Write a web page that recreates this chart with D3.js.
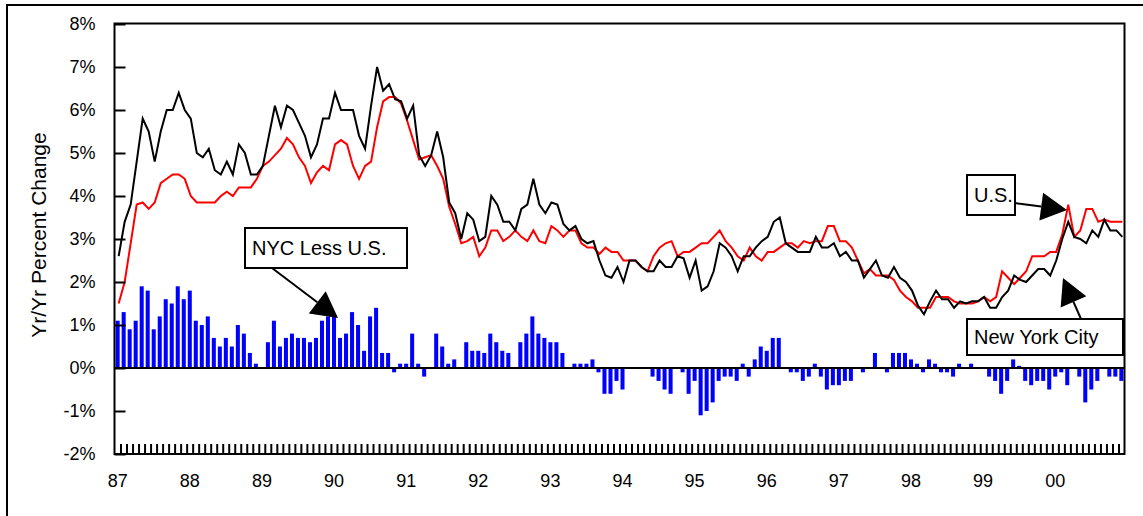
<!DOCTYPE html>
<html>
<head>
<meta charset="utf-8">
<script src="https://cdn.jsdelivr.net/npm/d3@7"></script>
<style>
  body { margin: 0; background: #fff; }
  text { font-family: "Liberation Sans", Arial, sans-serif; fill: #000; }
</style>
</head>
<body>
<div id="chart"></div>
<script>
// Year labels, one per January (Jan 87 .. Jan 00)
const yearLabels = ["87", "88", "89", "90", "91", "92", "93", "94", "95", "96", "97", "98", "99", "00"];

// New York City, yr/yr % change, monthly Jan 87 - Dec 00
const nycValues = [
  2.6, 3.4, 3.8, 4.8, 5.8, 5.5, 4.8, 5.5, 6.0, 6.0, 6.4, 6.0, 5.8, 5.0, 4.9, 5.1, 4.6, 4.5, 4.8, 4.5, 5.2, 5.0, 4.5, 4.5, 4.7, 5.4, 6.1, 5.6,
  6.1, 6.0, 5.7, 5.4, 4.9, 5.2, 5.8, 5.8, 6.4, 6.0, 6.0, 6.0, 5.4, 5.1, 6.1, 7.0, 6.45, 6.6, 6.25, 6.2, 5.8, 6.1, 4.95, 4.7, 4.95, 5.5, 4.9, 3.85,
  3.6, 3.0, 3.6, 3.45, 2.95, 3.05, 4.0, 3.8, 3.4, 3.4, 3.2, 3.7, 3.8, 4.4, 3.8, 3.6, 3.85, 3.8, 3.35, 3.2, 3.3, 3.0, 2.9, 2.95, 2.5, 2.15, 2.1, 2.35,
  2.0, 2.5, 2.5, 2.35, 2.25, 2.25, 2.5, 2.35, 2.35, 2.6, 2.55, 2.1, 2.5, 1.8, 1.9, 2.25, 2.9, 2.8, 2.6, 2.25, 2.6, 2.6, 2.8, 2.95, 3.05, 3.4, 3.5, 2.9,
  2.8, 2.7, 2.7, 2.7, 3.05, 2.8, 2.8, 2.9, 2.6, 2.7, 2.5, 2.5, 2.1, 2.3, 2.5, 2.15, 2.1, 2.35, 2.1, 2.0, 1.8, 1.45, 1.25, 1.55, 1.8, 1.6, 1.6, 1.4,
  1.55, 1.5, 1.55, 1.55, 1.65, 1.4, 1.4, 1.65, 1.8, 2.15, 2.05, 2.0, 2.15, 2.3, 2.3, 2.15, 2.5, 3.0, 3.4, 3.05, 3.0, 2.9, 3.2, 3.05, 3.45, 3.2, 3.2, 3.05
];

// U.S., yr/yr % change
const usValues = [
  1.5, 2.0, 2.9, 3.8, 3.85, 3.7, 3.85, 4.3, 4.4, 4.5, 4.5, 4.4, 4.0, 3.85, 3.85, 3.85, 3.85, 4.0, 4.1, 4.0, 4.2, 4.2, 4.2, 4.4, 4.7, 4.8, 4.95, 5.1,
  5.35, 5.2, 4.9, 4.7, 4.3, 4.55, 4.7, 4.6, 5.2, 5.3, 5.2, 4.7, 4.4, 4.7, 4.8, 5.6, 6.2, 6.3, 6.3, 6.15, 5.75, 5.3, 4.85, 4.9, 4.95, 4.7, 4.4, 3.75,
  3.35, 2.9, 2.95, 3.05, 2.6, 2.8, 3.2, 3.2, 2.95, 3.05, 3.2, 3.05, 2.95, 3.2, 2.95, 2.9, 3.3, 3.2, 3.05, 3.2, 3.2, 2.9, 2.8, 2.8, 2.65, 2.8, 2.7, 2.7,
  2.5, 2.5, 2.5, 2.35, 2.25, 2.6, 2.8, 2.9, 2.95, 2.6, 2.7, 2.7, 2.8, 2.9, 2.9, 3.05, 3.2, 2.95, 2.8, 2.6, 2.5, 2.8, 2.6, 2.5, 2.7, 2.7, 2.8, 2.9,
  2.9, 2.8, 2.95, 2.9, 2.95, 2.95, 3.3, 3.3, 2.95, 2.95, 2.8, 2.5, 2.2, 2.3, 2.15, 2.15, 2.15, 2.05, 1.8, 1.65, 1.55, 1.4, 1.4, 1.4, 1.65, 1.65, 1.65, 1.55,
  1.5, 1.5, 1.5, 1.55, 1.65, 1.55, 1.65, 2.25, 2.1, 1.95, 2.1, 2.25, 2.6, 2.6, 2.6, 2.7, 2.7, 3.1, 3.8, 3.05, 3.2, 3.7, 3.7, 3.4, 3.45, 3.4, 3.4, 3.4
];

// NYC less U.S. (bars)
const diffValues = [
  1.1, 1.3, 0.9, 1.1, 1.9, 1.8, 0.9, 1.2, 1.6, 1.5, 1.9, 1.6, 1.8, 1.1, 1.0, 1.2, 0.7, 0.5, 0.7, 0.5, 1.0, 0.8, 0.35, 0.1, 0, 0.6, 1.1, 0.5,
  0.7, 0.8, 0.7, 0.7, 0.6, 0.7, 1.1, 1.2, 1.2, 0.7, 0.8, 1.3, 1.0, 0.4, 1.2, 1.4, 0.35, 0.35, -0.1, 0.1, 0.1, 0.8, 0.1, -0.2, 0, 0.8, 0.5, 0.1,
  0.2, 0, 0.6, 0.4, 0.4, 0.35, 0.8, 0.6, 0.4, 0.35, 0, 0.6, 0.8, 1.2, 0.8, 0.7, 0.6, 0.6, 0.35, 0, 0.1, 0.1, 0.1, 0.2, -0.1, -0.6, -0.6, -0.3,
  -0.5, 0, 0, 0, 0, -0.2, -0.3, -0.5, -0.6, 0, -0.1, -0.6, -0.3, -1.1, -1.0, -0.8, -0.3, -0.2, -0.2, -0.3, 0.1, -0.2, 0.2, 0.5, 0.4, 0.7, 0.7, 0,
  -0.1, -0.1, -0.3, -0.2, 0.1, -0.2, -0.5, -0.4, -0.4, -0.3, -0.3, 0, -0.1, 0, 0.35, 0, -0.1, 0.35, 0.35, 0.35, 0.2, 0.1, -0.1, 0.2, 0.1, -0.1, -0.1, -0.2,
  0.1, 0, 0.1, 0, 0, -0.2, -0.3, -0.6, -0.3, 0.2, 0.05, -0.3, -0.4, -0.3, -0.3, -0.5, -0.2, -0.1, -0.4, 0, -0.2, -0.8, -0.5, -0.3, 0, -0.2, -0.2, -0.3
];

const yTicks = [-2, -1, 0, 1, 2, 3, 4, 5, 6, 7, 8];

const width = 1143;
const height = 516;
const plot = { left: 114.5, right: 1124.5, top: 24, bottom: 454 };

const months = d3.range(nycValues.length);

const svg = d3.select("#chart")
    .append("svg")
    .attr("width", width)
    .attr("height", height);

// outer frame of the picture
svg.append("rect")
    .attr("x", 7).attr("y", 5)
    .attr("width", width + 20).attr("height", height + 20)
    .attr("fill", "none")
    .attr("stroke", "#000")
    .attr("stroke-width", 2);

// scales
const x = d3.scaleBand()
    .domain(months)
    .range([plot.left, plot.right])
    .paddingInner(0.33)
    .paddingOuter(0.19);

const xEdge = d3.scaleLinear()
    .domain([0, months.length])
    .range([plot.left, plot.right]);

const y = d3.scaleLinear()
    .domain([-2, 8])
    .range([plot.bottom, plot.top]);

// bars: NYC less U.S.
svg.append("g")
    .selectAll("rect")
    .data(diffValues)
    .enter().append("rect")
    .attr("x", (d, i) => x(i))
    .attr("width", x.bandwidth())
    .attr("y", d => y(Math.max(d, 0)))
    .attr("height", d => Math.abs(y(d) - y(0)))
    .attr("fill", "#0000ff");

// zero line
svg.append("line")
    .attr("x1", plot.left).attr("x2", plot.right)
    .attr("y1", y(0)).attr("y2", y(0))
    .attr("stroke", "#000")
    .attr("stroke-width", 2);

// lines
const line = d3.line()
    .x((d, i) => x(i) + x.bandwidth() / 2 + 1)
    .y(d => y(d));

svg.append("path")
    .datum(usValues)
    .attr("d", line)
    .attr("fill", "none")
    .attr("stroke", "#ff0000")
    .attr("stroke-width", 2);

svg.append("path")
    .datum(nycValues)
    .attr("d", line)
    .attr("fill", "none")
    .attr("stroke", "#000")
    .attr("stroke-width", 2);

// plot frame
svg.append("rect")
    .attr("x", plot.left).attr("y", plot.top - 0.5)
    .attr("width", plot.right - plot.left)
    .attr("height", plot.bottom - plot.top + 0.5)
    .attr("fill", "none")
    .attr("stroke", "#000")
    .attr("stroke-width", 2);

// y axis, ticks pointing inward
const yAxis = svg.append("g")
    .attr("transform", `translate(${plot.left},0)`)
    .call(d3.axisLeft(y)
        .tickValues(yTicks)
        .tickSize(-11)
        .tickSizeOuter(0)
        .tickPadding(19)
        .tickFormat(d => d + "%"));
yAxis.select(".domain").remove();
yAxis.selectAll("line").attr("stroke-width", 2);
yAxis.selectAll("text")
    .attr("font-family", "Liberation Sans, Arial, sans-serif")
    .attr("font-size", 18);

// monthly tick marks along the bottom
const monthAxis = svg.append("g")
    .attr("transform", `translate(0,${plot.bottom})`)
    .call(d3.axisBottom(xEdge)
        .tickValues(d3.range(1, months.length))
        .tickSize(-10)
        .tickSizeOuter(0)
        .tickFormat(""));
monthAxis.select(".domain").remove();
monthAxis.selectAll("line").attr("stroke-width", 2);

// year labels under each January
const yearAxis = svg.append("g")
    .attr("transform", `translate(0,${plot.bottom})`)
    .call(d3.axisBottom(x)
        .tickValues(months.filter(i => i % 12 === 0))
        .tickSize(0)
        .tickPadding(20)
        .tickFormat(i => yearLabels[i / 12]));
yearAxis.select(".domain").remove();
yearAxis.selectAll("text")
    .attr("font-family", "Liberation Sans, Arial, sans-serif")
    .attr("font-size", 18);

// y axis title
svg.append("text")
    .attr("transform", "translate(46,235) rotate(-90)")
    .attr("text-anchor", "middle")
    .attr("font-size", 21)
    .text("Yr/Yr Percent Change");

// callout box with an arrow
function callout(box, label, from, tip) {
    const g = svg.append("g");

    // arrow shaft and head
    const dx = tip[0] - from[0], dy = tip[1] - from[1];
    const len = Math.sqrt(dx * dx + dy * dy);
    const ux = dx / len, uy = dy / len;
    const headLen = 26, headHalf = 14;
    const bx = tip[0] - ux * headLen, by = tip[1] - uy * headLen;

    g.append("line")
        .attr("x1", from[0]).attr("y1", from[1])
        .attr("x2", bx).attr("y2", by)
        .attr("stroke", "#000")
        .attr("stroke-width", 2);

    g.append("polygon")
        .attr("points", [
            tip,
            [bx - uy * headHalf, by + ux * headHalf],
            [bx + uy * headHalf, by - ux * headHalf]
        ].map(p => p.join(",")).join(" "))
        .attr("fill", "#000");

    g.append("rect")
        .attr("x", box.x).attr("y", box.y)
        .attr("width", box.w).attr("height", box.h)
        .attr("fill", "#fff")
        .attr("stroke", "#000")
        .attr("stroke-width", 2);

    g.append("text")
        .attr("x", box.x + 7)
        .attr("y", box.y + box.h / 2 + 7)
        .attr("font-size", 20)
        .text(label);
}

callout({ x: 245, y: 228, w: 162, h: 40 }, "NYC Less U.S.", [272, 268], [338, 318]);
callout({ x: 967, y: 175, w: 48, h: 40 }, "U.S.", [1015, 203], [1067, 210]);
callout({ x: 967, y: 319, w: 156, h: 36 }, "New York City", [1081, 319], [1063, 278]);
</script>
</body>
</html>
